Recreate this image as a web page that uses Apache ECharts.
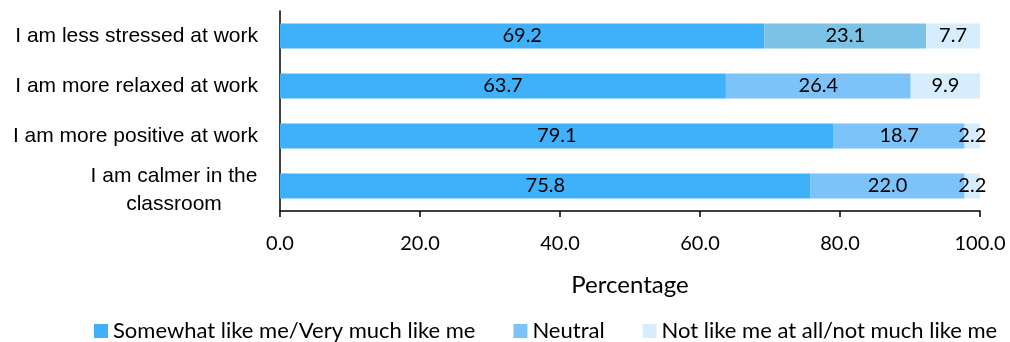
<!DOCTYPE html>
<html>
<head>
    <meta charset="utf-8" />
    <title>Percentage by statement</title>
    <script src="https://cdn.jsdelivr.net/npm/echarts@6/dist/echarts.min.js"></script>
</head>
<body style="margin:0">
<div id="main" style="width: 1010px;height:342px;"></div>
<script type="text/javascript">
    // data
    var categories = ['I am less stressed at work', 'I am more relaxed at work', 'I am more positive at work', 'I am calmer in the\nclassroom'];
    var likeMe = [69.2, 63.7, 79.1, 75.8];
    var neutral = [23.1, 26.4, 18.7, 22.0];
    var notLikeMe = [7.7, 9.9, 2.2, 2.2];
    var seriesNames = ['Somewhat like me/Very much like me', 'Neutral', 'Not like me at all/not much like me'];
    var xTicks = [0, 20, 40, 60, 80, 100];

    var colors = ['#3fb1fb', '#7cc3fa', '#d5edfd'];

    var labelStyle = {
        show: true,
        position: 'inside',
        color: '#000',
        fontFamily: 'Lato',
        fontSize: 20,
        formatter: function (p) { return p.value.toFixed(1); }
    };

    // first row's neutral segment has a slightly different shade
    var neutralData = neutral.map(function (v, i) {
        return i === 0 ? {value: v, itemStyle: {color: '#7bc3e6'}} : v;
    });

    var myChart = echarts.init(document.getElementById('main'));
    var option = {
        animation: false,
        grid: {left: 280, right: 30, top: 11, bottom: 131},
        legend: {
            data: seriesNames,
            left: 89,
            right: 0,
            top: 315,
            icon: 'rect',
            itemWidth: 14,
            itemHeight: 14,
            itemGap: 38,
            textStyle: {fontFamily: 'Lato', fontSize: 22, color: '#000'}
        },
        xAxis: {
            type: 'value',
            min: xTicks[0],
            max: xTicks[xTicks.length - 1],
            interval: 20,
            name: 'Percentage',
            nameLocation: 'middle',
            nameGap: 62,
            nameTextStyle: {fontFamily: 'Lato', fontSize: 24, color: '#000'},
            axisLine: {show: true, lineStyle: {color: '#000', width: 1.5}},
            axisTick: {show: true, length: 6, lineStyle: {color: '#000', width: 1.5}},
            splitLine: {show: false},
            axisLabel: {
                margin: 23,
                fontFamily: 'Lato',
                fontSize: 20,
                color: '#000',
                formatter: function (v) { return v.toFixed(1); }
            }
        },
        yAxis: {
            type: 'category',
            data: categories,
            inverse: true,
            axisLine: {show: true, lineStyle: {color: '#000', width: 1.5}},
            axisTick: {show: false},
            axisLabel: {
                margin: 22,
                fontFamily: 'Liberation Sans',
                fontSize: 21,
                color: '#000',
                lineHeight: 24,
                formatter: function (v) {
                    if (v.indexOf('\n') >= 0) {
                        var parts = v.split('\n');
                        return '{c1|' + parts[0] + '}\n{c|' + parts[1] + '}';
                    }
                    return v;
                },
                rich: {
                    c1: {width: 168, align: 'center', fontFamily: 'Liberation Sans', fontSize: 21, color: '#000', lineHeight: 26, padding: [6, 0, 0, 0]},
                    c: {width: 168, align: 'center', fontFamily: 'Liberation Sans', fontSize: 21, color: '#000', lineHeight: 26, padding: [10, 0, 0, 0]}
                }
            }
        },
        series: [
            {
                name: seriesNames[0],
                type: 'bar',
                stack: 'total',
                barWidth: '50%',
                data: likeMe,
                itemStyle: {color: colors[0]},
                label: labelStyle
            },
            {
                name: seriesNames[1],
                type: 'bar',
                stack: 'total',
                data: neutralData,
                itemStyle: {color: colors[1]},
                label: labelStyle
            },
            {
                name: seriesNames[2],
                type: 'bar',
                stack: 'total',
                data: notLikeMe,
                itemStyle: {color: colors[2]},
                label: labelStyle
            }
        ]
    };
    myChart.setOption(option);
</script>
</body>
</html>
